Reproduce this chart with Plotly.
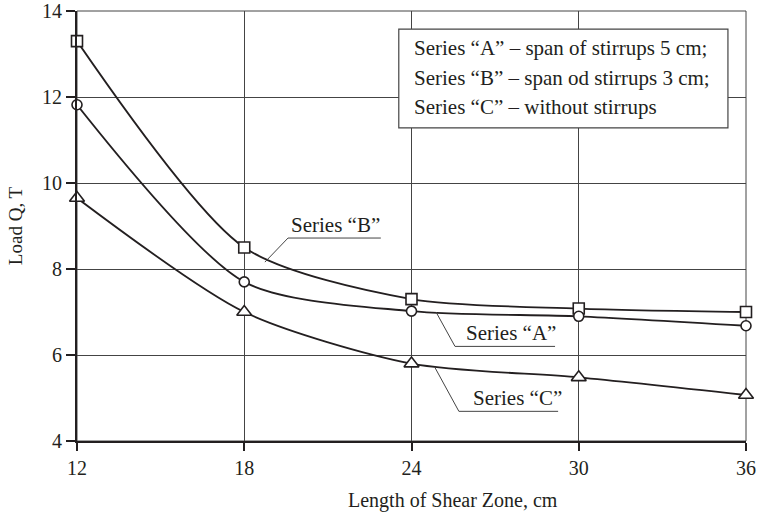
import plotly.graph_objects as go

# Shear zone length, cm
shear_len = [12, 18, 24, 30, 36]

# Load Q, T for each series
series_b = [13.3, 8.5, 7.3, 7.08, 7.0]     # squares
series_a = [11.82, 7.7, 7.02, 6.9, 6.68]   # circles
series_c = [9.65, 7.0, 5.8, 5.48, 5.07]    # triangles

x_ticks = [12, 18, 24, 30, 36]
y_ticks = [4, 6, 8, 10, 12, 14]

legend_lines = [
    "Series “A” – span of stirrups 5 cm;",
    "Series “B” – span od stirrups 3 cm;",
    "Series “C” – without stirrups",
]

FONT = "Liberation Serif"
INK = "#231f20"

fig = go.Figure()

def add_series(y, symbol, size):
    fig.add_trace(go.Scatter(
        x=shear_len, y=y, mode="lines+markers", cliponaxis=False,
        line=dict(color=INK, width=1.8, shape="spline", smoothing=0.75),
        marker=dict(symbol=symbol, size=size, color="white",
                    line=dict(color=INK, width=1.6)),
        showlegend=False, hoverinfo="skip",
    ))

add_series(series_b, "square", 11)
add_series(series_a, "circle", 10)
add_series(series_c, "triangle-up", 13)

shapes = []
# thin frame on top / right
shapes.append(dict(type="rect", xref="paper", yref="paper", x0=0, x1=1, y0=0, y1=1,
                   line=dict(color="#444", width=1), layer="below"))
# legend box
shapes.append(dict(type="rect", xref="paper", yref="paper",
                   x0=0.481, x1=0.973, y0=0.728, y1=0.958,
                   fillcolor="white", line=dict(color="#444", width=1.2), layer="above"))

# callouts: (label, text x, underline y, underline x0, x1, leader end x, y)
callouts = [
    ("Series “B”", 19.62, 8.72, 19.57, 22.9, 18.74, 8.16),
    ("Series “A”", 25.88, 6.20, 25.56, 29.15, 24.88, 7.00),
    ("Series “C”", 26.12, 4.69, 25.70, 29.26, 24.84, 5.71),
]
annotations = []
for text, tx, uy, ux0, ux1, lx, ly in callouts:
    shapes.append(dict(type="line", xref="x", yref="y", x0=ux0, x1=ux1, y0=uy, y1=uy,
                       line=dict(color="#444", width=1)))
    shapes.append(dict(type="line", xref="x", yref="y", x0=ux0, x1=lx, y0=uy, y1=ly,
                       line=dict(color="#444", width=1)))
    annotations.append(dict(x=tx, y=uy, xref="x", yref="y", text=text, showarrow=False,
                            xanchor="left", yanchor="bottom", yshift=-1,
                            font=dict(family=FONT, size=21, color=INK)))

for line, py in zip(legend_lines, [0.914, 0.845, 0.776]):
    annotations.append(dict(x=0.5007, y=py, xref="paper", yref="paper", text=line,
                            showarrow=False, xanchor="left", yanchor="middle",
                            font=dict(family=FONT, size=21, color=INK)))

annotations.append(dict(x=0.562, y=-0.138, xref="paper", yref="paper",
                        text="Length of Shear Zone, cm", showarrow=False,
                        xanchor="center", yanchor="middle",
                        font=dict(family=FONT, size=20, color=INK)))

fig.update_layout(
    width=759, height=517,
    margin=dict(l=77, r=13, t=11, b=76),
    paper_bgcolor="white", plot_bgcolor="white",
    font=dict(family=FONT, size=20, color=INK),
    shapes=shapes, annotations=annotations,
    xaxis=dict(range=[12, 36], tickvals=x_ticks, ticktext=[str(v) for v in x_ticks],
               automargin=False,
               showgrid=True, gridcolor="#444", gridwidth=1,
               showline=True, linecolor=INK, linewidth=2,
               ticks="outside", ticklen=8, tickwidth=1.5, tickcolor=INK,
               zeroline=False, tickfont=dict(family=FONT, size=20, color=INK)),
    yaxis=dict(range=[4, 14], tickvals=y_ticks, ticktext=[str(v) for v in y_ticks],
               automargin=False,
               showgrid=True, gridcolor="#444", gridwidth=1,
               showline=True, linecolor=INK, linewidth=2,
               ticks="outside", ticklen=9, tickwidth=1.5, tickcolor=INK,
               zeroline=False, tickfont=dict(family=FONT, size=20, color=INK),
               title=dict(text="Load Q, T", standoff=14,
                          font=dict(family=FONT, size=19, color=INK))),
)

fig.write_html("out.html")
